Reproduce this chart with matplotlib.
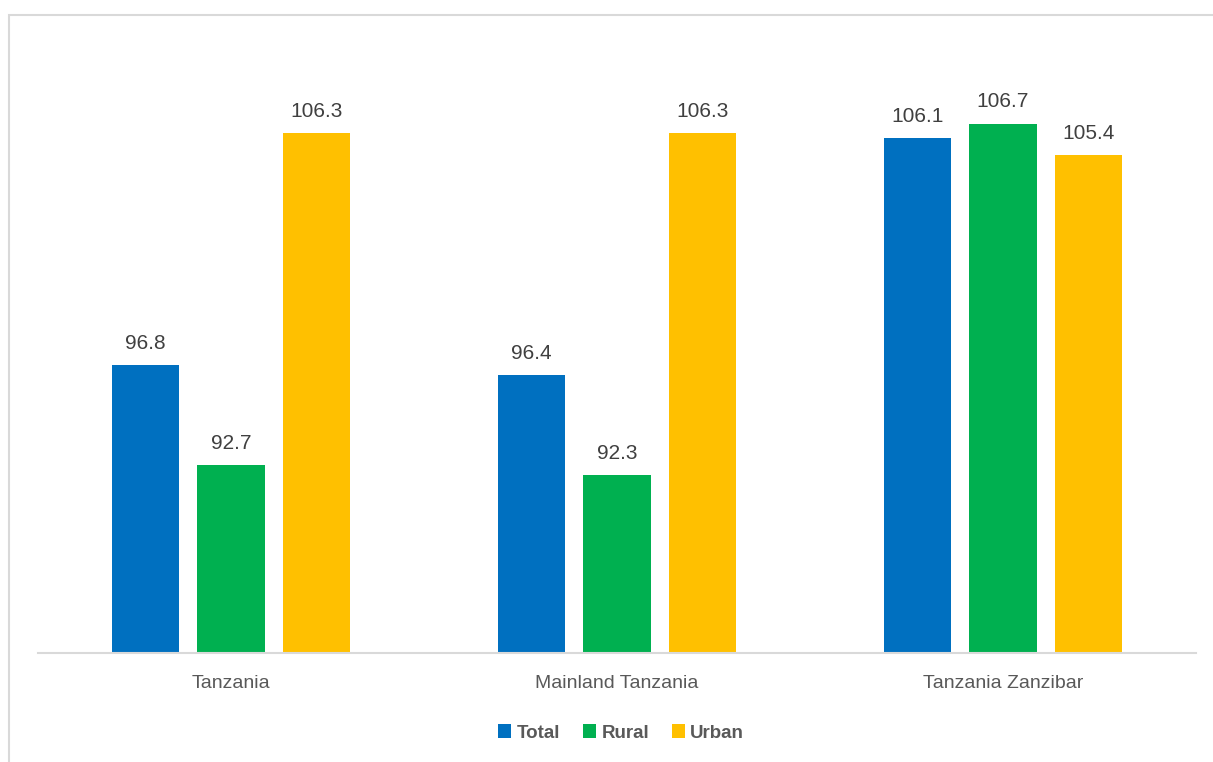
import numpy as np
import matplotlib.pyplot as plt
from matplotlib.patches import Rectangle
from matplotlib import font_manager

regions = ['Tanzania', 'Mainland Tanzania', 'Tanzania Zanzibar']
series = ['Total', 'Rural', 'Urban']
total = [96.8, 96.4, 106.1]
rural = [92.7, 92.3, 106.7]
urban = [106.3, 106.3, 105.4]
colors = ['#0070C0', '#00B050', '#FFC000']

names = [f.name for f in font_manager.fontManager.ttflist]
fam = 'Liberation Sans Narrow' if 'Liberation Sans Narrow' in names else 'Liberation Sans'
plt.rcParams['font.family'] = [fam, 'DejaVu Sans']

W, H = 1213, 762
fig = plt.figure(figsize=(W/100, H/100), dpi=100)
# axes placed in pixel terms
ax = fig.add_axes([38/W, 1-653/H, (1196-38)/W, (653-43)/H])

x = np.arange(len(regions))
step = 0.2215
width = 0.174
for i, (vals, c) in enumerate(zip([total, rural, urban], colors)):
    bars = ax.bar(x + (i-1)*step, vals, width, color=c, label=series[i])
    for b, v in zip(bars, vals):
        ax.text(b.get_x()+b.get_width()/2, v + 0.5, f'{v:.1f}', ha='center', va='bottom',
                fontsize=15, color='#404040')

ax.set_ylim(85, 110)
ax.set_xlim(-0.5, 2.5)
ax.set_yticks([])
ax.set_xticks(x)
ax.set_xticklabels(regions, fontsize=14, color='#595959')
ax.tick_params(axis='x', length=0, pad=16)
for s in ['top', 'right', 'left']:
    ax.spines[s].set_visible(False)
ax.spines['bottom'].set_color('#d9d9d9')
ax.spines['bottom'].set_linewidth(1.5)

leg = ax.legend(loc='center', bbox_to_anchor=(621/W, 1-733/H), bbox_transform=fig.transFigure,
                ncol=3, frameon=False, handlelength=0.7, handleheight=0.7, handletextpad=0.3,
                columnspacing=1.2, prop={'size': 13.5, 'weight': 'bold'})
for t in leg.get_texts():
    t.set_color('#595959')

# outer light border
fig.patches.append(Rectangle((9/W, -0.1), 1.2, 1+0.1-15/H, transform=fig.transFigure,
                             fill=False, edgecolor='#d9d9d9', linewidth=1.5))

fig.savefig('out.png', dpi=100)
